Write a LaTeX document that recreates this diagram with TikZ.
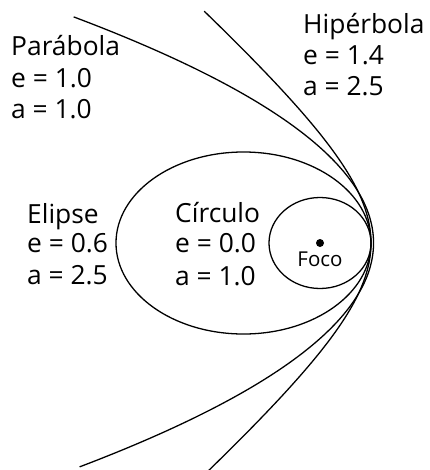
\documentclass[tikz,border=0pt]{standalone}
\usepackage{fontspec}
\newfontfamily\conicsans{Open Sans}
\usepackage{tikz}
\usetikzlibrary{positioning}

\begin{document}
\begin{tikzpicture}[
    x=0.03cm, y=-0.03cm,
    orbit/.style={line width=1.1pt, black},
    lbl/.style={anchor=base west, inner sep=0pt, font=\conicsans\fontsize{22.5}{26}\selectfont},
    small/.style={inner sep=0pt, font=\conicsans\fontsize{17.5}{20}\selectfont}
]
\useasboundingbox (0,0) rectangle (430,470);

\coordinate (focus) at (320,243);

% orbits, focus at origin, periapsis at x=1
\begin{scope}[shift={(focus)}, x=1.53cm, y=1.365cm]
    \draw[orbit] (0,0) circle[x radius=1, y radius=1];
    \draw[orbit] (-1.5,0) ellipse[x radius=2.5, y radius=2];
    \draw[orbit] plot[domain=-4.92:4.97, samples=80, smooth] ({1.05-\x*\x/4.2},\x);
    \draw[orbit] plot[domain=-1.49:1.48, samples=80, smooth] ({3.5-2.5*cosh(\x)},{2.449*sinh(\x)});
\end{scope}

\fill (focus) circle[radius=4];
\node[small] (foco) at (320,259) {Foco};

% labels
\node[lbl] (parab)   at (11,55)  {Parábola};
\node[lbl] (parab-e) at (11,87)  {e = 1.0};
\node[lbl] (parab-a) at (11,118) {a = 1.0};

\node[lbl] (hiper)   at (303,33) {Hipérbola};
\node[lbl] (hiper-e) at (303,64) {e = 1.4};
\node[lbl] (hiper-a) at (303,95) {a = 2.5};

\node[lbl] (elip)    at (27,223) {Elipse};
\node[lbl] (elip-e)  at (27,252) {e = 0.6};
\node[lbl] (elip-a)  at (27,284) {a = 2.5};

\node[lbl] (circ)    at (175,222) {Círculo};
\node[lbl] (circ-e)  at (175,252) {e = 0.0};
\node[lbl] (circ-a)  at (175,285) {a = 1.0};

\end{tikzpicture}
\end{document}
